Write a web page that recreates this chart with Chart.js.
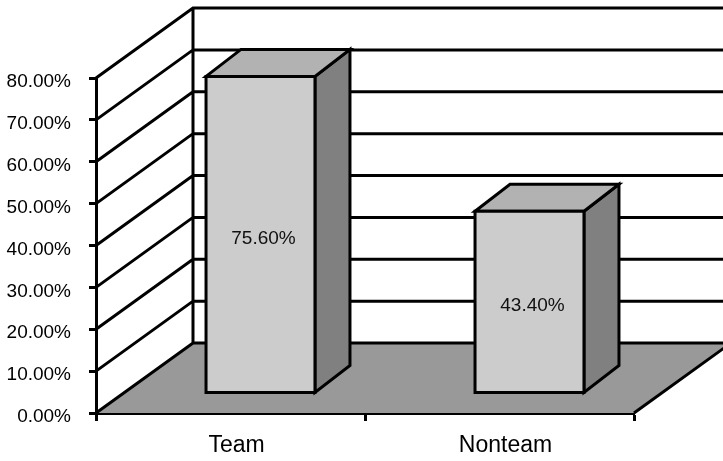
<!DOCTYPE html>
<html>
<head>
<meta charset="utf-8">
<script src="https://cdn.jsdelivr.net/npm/chart.js@4/dist/chart.umd.min.js"></script>
<style>
  html, body { margin: 0; padding: 0; background: #fff; }
  canvas { display: block; }
</style>
</head>
<body>
<canvas id="teamChart" width="723" height="461"></canvas>
<script>
// data
const categories = ['Team', 'Nonteam'];
const shares = [75.6, 43.4];
const yMax = 80;
const yStep = 10;

// 3D look: depth of the back wall, bar front offset and bar depth (pixels)
const WALL_DX = 97, WALL_DY = -70;
const FRONT_DX = 30, FRONT_DY = -20;
const BAR_DX = 35, BAR_DY = -27;

const fontFamily = '"Liberation Sans", Arial, Helvetica, sans-serif';

const threeD = {
    id: 'threeD',
    beforeDatasetsDraw(chart) {
        const { ctx, chartArea: a, scales: { y } } = chart;
        const y0 = y.getPixelForValue(0);
        ctx.save();
        ctx.strokeStyle = '#000';
        ctx.lineWidth = 3;
        ctx.lineJoin = 'miter';

        // floor
        ctx.fillStyle = '#999999';
        ctx.beginPath();
        ctx.moveTo(a.left, y0);
        ctx.lineTo(a.left + WALL_DX, y0 + WALL_DY);
        ctx.lineTo(a.right + WALL_DX, y0 + WALL_DY);
        ctx.lineTo(a.right, y0);
        ctx.closePath();
        ctx.fill();

        // side wall diagonals and back wall gridlines
        ctx.beginPath();
        y.ticks.forEach(t => {
            const py = y.getPixelForValue(t.value);
            ctx.moveTo(a.left, py);
            ctx.lineTo(a.left + WALL_DX, py + WALL_DY);
            ctx.lineTo(chart.width + 5, py + WALL_DY);
        });
        ctx.moveTo(a.left + WALL_DX, y0 + WALL_DY);
        ctx.lineTo(a.left + WALL_DX, y.getPixelForValue(yMax) + WALL_DY);
        // right edge of the floor
        ctx.moveTo(a.right, y0);
        ctx.lineTo(a.right + WALL_DX, y0 + WALL_DY);
        ctx.stroke();
        ctx.restore();
    },
    afterDatasetsDraw(chart) {
        const { ctx } = chart;
        const meta = chart.getDatasetMeta(0);
        ctx.save();
        ctx.strokeStyle = '#000';
        ctx.lineWidth = 3;
        ctx.lineJoin = 'miter';
        meta.data.forEach((bar, i) => {
            const p = bar.getProps(['x', 'y', 'base', 'width'], true);
            const L = p.x - p.width / 2 + FRONT_DX;
            const R = p.x + p.width / 2 + FRONT_DX;
            const T = p.y + FRONT_DY;
            const B = p.base + FRONT_DY;

            // side face
            ctx.fillStyle = '#808080';
            ctx.beginPath();
            ctx.moveTo(R, T);
            ctx.lineTo(R + BAR_DX, T + BAR_DY);
            ctx.lineTo(R + BAR_DX, B + BAR_DY);
            ctx.lineTo(R, B);
            ctx.closePath();
            ctx.fill();
            ctx.stroke();

            // top face
            ctx.fillStyle = '#b2b2b2';
            ctx.beginPath();
            ctx.moveTo(L, T);
            ctx.lineTo(L + BAR_DX, T + BAR_DY);
            ctx.lineTo(R + BAR_DX, T + BAR_DY);
            ctx.lineTo(R, T);
            ctx.closePath();
            ctx.fill();
            ctx.stroke();

            // front face
            ctx.fillStyle = '#cccccc';
            ctx.beginPath();
            ctx.rect(L, T, R - L, B - T);
            ctx.fill();
            ctx.stroke();

            // value label
            ctx.fillStyle = '#111';
            ctx.font = '19px ' + fontFamily;
            ctx.textAlign = 'center';
            ctx.textBaseline = 'middle';
            ctx.fillText(shares[i].toFixed(2) + '%', (L + R) / 2 + 3, (T + B) / 2 + 4);
        });
        ctx.restore();
    }
};

Chart.defaults.font.family = fontFamily;
Chart.defaults.color = '#000';

new Chart(document.getElementById('teamChart').getContext('2d'), {
    type: 'bar',
    data: {
        labels: categories,
        datasets: [{
            data: shares,
            backgroundColor: 'rgba(0,0,0,0)',
            borderWidth: 0,
            categoryPercentage: 1,
            barPercentage: 0.405
        }]
    },
    options: {
        responsive: false,
        animation: false,
        layout: {
            padding: { top: 78, right: 89, left: 0, bottom: 0 }
        },
        plugins: {
            legend: { display: false },
            tooltip: { enabled: false }
        },
        scales: {
            x: {
                grid: {
                    offset: true,
                    drawOnChartArea: false,
                    tickLength: 8,
                    tickWidth: 3,
                    tickColor: '#000'
                },
                border: { display: true, color: '#000', width: 3 },
                ticks: {
                    font: { size: 23 },
                    padding: 11,
                    labelOffset: 6
                },
                afterFit(scale) { scale.height = 48; }
            },
            y: {
                min: 0,
                max: yMax,
                grid: {
                    drawOnChartArea: false,
                    tickLength: 7,
                    tickWidth: 3,
                    tickColor: '#000'
                },
                border: { display: true, color: '#000', width: 3 },
                ticks: {
                    stepSize: yStep,
                    font: { size: 19 },
                    padding: 18,
                    labelOffset: 4,
                    callback: v => v.toFixed(2) + '%'
                },
                afterFit(scale) { scale.width = 96; }
            }
        }
    },
    plugins: [threeD]
});
</script>
</body>
</html>
